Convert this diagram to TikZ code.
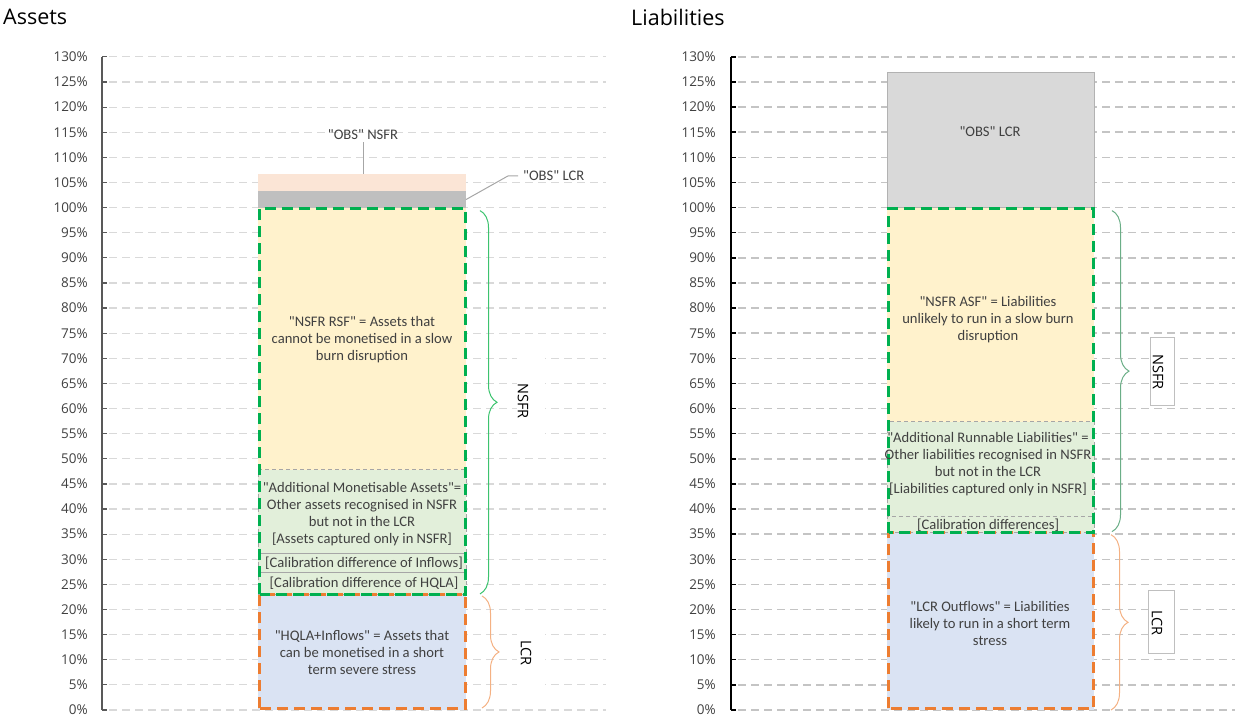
\documentclass[tikz,border=0pt]{standalone}
\usepackage{fontspec}
\setmainfont{Carlito}[Ligatures=TeXOff]
\newfontfamily\uifont{Open Sans}
\usepackage{tikz}
\usetikzlibrary{positioning,decorations.pathreplacing}
\definecolor{rsfyellow}{HTML}{FFF2CC}
\definecolor{addgreen}{HTML}{E2EFDA}
\definecolor{lcrblue}{HTML}{DAE3F3}
\definecolor{obspeach}{HTML}{FBE5D6}
\definecolor{obsgray}{HTML}{BFBFBF}
\definecolor{obslight}{HTML}{D9D9D9}
\definecolor{nsfrgreen}{HTML}{00B050}
\definecolor{lcrorange}{HTML}{ED7D31}
\definecolor{txtgray}{HTML}{404040}
\definecolor{axisgray}{HTML}{595959}
\definecolor{gridA}{HTML}{D9D9D9}
\definecolor{gridB}{HTML}{C4C4C4}
\definecolor{braceA}{HTML}{3CC36E}
\definecolor{braceB}{HTML}{6BAE87}
\definecolor{braceL}{HTML}{F4B183}
\definecolor{callgray}{HTML}{A6A6A6}

\tikzset{
  gridleft/.style={dash pattern=on 8pt off 5pt,line width=1.2pt,gridA},
  gridright/.style={dash pattern=on 8pt off 5pt,line width=1.5pt,gridB},
  subbox/.style={dash pattern=on 4pt off 3pt,line width=0.8pt,draw=gray!70},
  nsfrframe/.style={dash pattern=on 11pt off 6pt,line width=3.2pt,draw=nsfrgreen},
  lcrframe/.style={dash pattern=on 11pt off 6pt,line width=3.2pt,draw=lcrorange},
  bracket/.style={decorate,decoration={brace,amplitude=17pt},line width=1pt},
  callout/.style={draw=callgray,line width=1pt}
}

\begin{document}
\begin{tikzpicture}[x=1pt,y=5.024pt,
  boxtext/.style={align=center,text=txtgray,font=\fontsize{14.6}{17}\selectfont,inner sep=0pt},
  ticklabel/.style={anchor=east,text=txtgray,font=\uifont\fontsize{13.5}{15}\selectfont,inner sep=0pt},
  sidelabel/.style={rotate=-90,text=black,font=\uifont\fontsize{14.5}{16}\selectfont,inner sep=0pt},
  sidebox/.style={fill=white,inner sep=0pt},
  title/.style={anchor=west,text=black,font=\uifont\fontsize{21.5}{24}\selectfont,inner sep=0pt}]
\useasboundingbox (0,-1.79) rectangle (1235,141.32);

% titles
\node[title] (assetsT) at (3,137.9) {Assets};
\node[title] (liabT) at (631,137.9) {Liabilities};

% grids and axes
\foreach \p in {0,5,...,130}{
  \draw[gridleft] (109,\p) -- (606,\p);
  \draw[axisgray,line width=1.2pt] (102,\p) -- (107,\p);
  \node[ticklabel] at (88,\p) {\p\%};
  \draw[gridright] (738,\p) -- (1235,\p);
  \draw[black,line width=1.5pt] (731,\p) -- (736,\p);
  \node[ticklabel] at (716,\p) {\p\%};
}
\draw[axisgray,line width=1.2pt] (102,0) -- (102,130);
\draw[black,line width=1.5pt] (731,0) -- (731,130);

% assets bar
\fill[lcrblue] (258,0) rectangle (466,23);
\fill[addgreen] (258,23) rectangle (466,47.8);
\fill[rsfyellow] (258,47.8) rectangle (466,100);
\fill[obsgray] (258,100) rectangle (466,103.3);
\fill[obspeach] (258,103.3) rectangle (466,106.6);
\draw[subbox] (258,23) rectangle (466,27.3);
\draw[subbox] (258,27.3) rectangle (466,31.1);
\draw[subbox] (258,31.1) rectangle (466,47.8);
\draw[lcrframe] (259.5,0.3) rectangle (465.5,23);
\draw[nsfrframe] (259.5,23) rectangle (465.5,99.8);

% liabilities bar
\fill[lcrblue] (887,0) rectangle (1094,35.3);
\fill[addgreen] (887,35.3) rectangle (1094,57.4);
\fill[rsfyellow] (887,57.4) rectangle (1094,100);
\filldraw[fill=obslight,draw=gray!60,line width=0.6pt] (887,100) rectangle (1094,127);
\draw[subbox] (887,35.3) rectangle (1094,38.5);
\draw[subbox] (887,38.5) rectangle (1094,57.4);
\draw[lcrframe] (888.5,0.3) rectangle (1093.5,35.3);
\draw[nsfrframe] (888.5,35.3) rectangle (1093.5,99.8);

% texts in the assets bar
\node[boxtext] (rsfL) at (362,73.65) {"NSFR RSF" = Assets that\\cannot be monetised in a slow\\burn disruption};
\node[boxtext] (addL) at (362,39.0) {"Additional Monetisable Assets"=\\Other assets recognised in NSFR\\but not in the LCR\\{[Assets captured only in NSFR]}};
\node[boxtext] (inflowL) at (364,29.3) {[Calibration difference of Inflows]};
\node[boxtext] (hqlaL) at (364,25.3) {[Calibration difference of HQLA]};
\node[boxtext] (hqlaInL) at (362,11.35) {"HQLA+Inflows" = Assets that\\can be monetised in a short\\term severe stress};

% callouts
\node[boxtext] (obsNsfrL) at (363,114.45) {"OBS" NSFR};
\coordinate (obsNsfrPt) at (363,106.6);
\draw[callout] (obsNsfrL.south) ++(0,-0.4) -- (obsNsfrPt);
\coordinate (obsLcrPt) at (466,101.6);
\coordinate (obsLcrBend) at (508,106.3);
\coordinate (obsLcrEnd) at (518,106.3);
\node[boxtext,anchor=west] (obsLcrL) at (523,106.3) {"OBS" LCR};
\draw[callout] (obsLcrPt) -- (obsLcrBend) -- (obsLcrEnd);

% texts in the liabilities bar
\node[boxtext] (obsLcrR) at (990,115.2) {"OBS" LCR};
\node[boxtext] (asfR) at (988,77.8) {"NSFR ASF" = Liabilities\\unlikely to run in a slow burn\\disruption};
\node[boxtext] (runR) at (988,49.0) {"Additional Runnable Liabilities" =\\Other liabilities recognised in NSFR\\but not in the LCR\\{[Liabilities captured only in NSFR]}};
\node[boxtext] (calR) at (988,36.8) {[Calibration differences]};
\node[boxtext] (outR) at (990,17.3) {"LCR Outflows" = Liabilities\\likely to run in a short term\\stress};

% braces
\draw[bracket,braceA] (480,99.4) -- (480,23.1);
\draw[bracket,braceL] (482,22.7) -- (482,0.4);
\draw[bracket,braceB] (1112,99.4) -- (1112,35.5);
\draw[bracket,braceL] (1111,34.9) -- (1111,0);

% side labels
\node[sidebox,minimum width=28pt,minimum height=80pt] (nsfrLbox) at (531,62.3) {};
\node[sidelabel] (nsfrL) at (523,61.5) {NSFR};
\node[sidebox,minimum width=28pt,minimum height=70pt] (lcrLbox) at (531,11.5) {};
\node[sidelabel] (lcrL) at (526,11.3) {LCR};
\node[sidebox,draw=gray!50,line width=0.8pt,minimum width=24pt,minimum height=68pt] (nsfrRbox) at (1162,67.3) {};
\node[sidelabel] (nsfrR) at (1158,67.3) {NSFR};
\node[sidebox,draw=gray!50,line width=0.8pt,minimum width=26pt,minimum height=63pt] (lcrRbox) at (1161,17.6) {};
\node[sidelabel] (lcrR) at (1157,17.3) {LCR};
\end{tikzpicture}
\end{document}
